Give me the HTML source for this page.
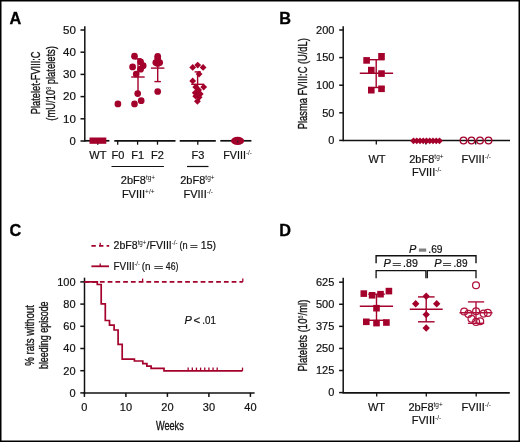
<!DOCTYPE html><html><head><meta charset="utf-8"><style>html,body{margin:0;padding:0;background:#fff;}svg{display:block;will-change:transform;}text{font-family:"Liberation Sans",sans-serif;}</style></head><body>
<svg width="520" height="442" viewBox="0 0 520 442">
<rect x="0" y="0" width="520" height="442" fill="#fff"/>
<rect x="0.75" y="0.75" width="518.5" height="440.5" fill="none" stroke="#000" stroke-width="1.5"/>
<text x="9.6" y="23.8" font-size="16.3" text-anchor="start" font-weight="bold" fill="#000" stroke="#000" stroke-width="0.3">A</text>
<line x1="84.8" y1="26.2" x2="84.8" y2="141.8" stroke="#111" stroke-width="1.5" />
<line x1="80.5" y1="141.0" x2="84.8" y2="141.0" stroke="#111" stroke-width="1.5" />
<text x="75.9" y="144.8" font-size="11" text-anchor="end" textLength="6.3" lengthAdjust="spacingAndGlyphs" fill="#111" stroke="#111" stroke-width="0.2">0</text>
<line x1="80.5" y1="118.8" x2="84.8" y2="118.8" stroke="#111" stroke-width="1.5" />
<text x="75.9" y="122.6" font-size="11" text-anchor="end" textLength="12.9" lengthAdjust="spacingAndGlyphs" fill="#111" stroke="#111" stroke-width="0.2">10</text>
<line x1="80.5" y1="96.6" x2="84.8" y2="96.6" stroke="#111" stroke-width="1.5" />
<text x="75.9" y="100.39999999999999" font-size="11" text-anchor="end" textLength="12.9" lengthAdjust="spacingAndGlyphs" fill="#111" stroke="#111" stroke-width="0.2">20</text>
<line x1="80.5" y1="74.4" x2="84.8" y2="74.4" stroke="#111" stroke-width="1.5" />
<text x="75.9" y="78.2" font-size="11" text-anchor="end" textLength="12.9" lengthAdjust="spacingAndGlyphs" fill="#111" stroke="#111" stroke-width="0.2">30</text>
<line x1="80.5" y1="52.2" x2="84.8" y2="52.2" stroke="#111" stroke-width="1.5" />
<text x="75.9" y="56.0" font-size="11" text-anchor="end" textLength="12.9" lengthAdjust="spacingAndGlyphs" fill="#111" stroke="#111" stroke-width="0.2">40</text>
<line x1="80.5" y1="30.0" x2="84.8" y2="30.0" stroke="#111" stroke-width="1.5" />
<text x="75.9" y="33.8" font-size="11" text-anchor="end" textLength="12.9" lengthAdjust="spacingAndGlyphs" fill="#111" stroke="#111" stroke-width="0.2">50</text>
<line x1="84.8" y1="140.8" x2="109.4" y2="140.8" stroke="#111" stroke-width="1.7" />
<line x1="114.3" y1="140.8" x2="175.5" y2="140.8" stroke="#111" stroke-width="1.7" />
<line x1="179.7" y1="140.8" x2="215.8" y2="140.8" stroke="#111" stroke-width="1.7" />
<line x1="220.3" y1="140.8" x2="251.4" y2="140.8" stroke="#111" stroke-width="1.7" />
<line x1="97.8" y1="140.8" x2="97.8" y2="144.7" stroke="#111" stroke-width="1.3" />
<line x1="117.7" y1="140.8" x2="117.7" y2="144.7" stroke="#111" stroke-width="1.3" />
<line x1="137.6" y1="140.8" x2="137.6" y2="144.7" stroke="#111" stroke-width="1.3" />
<line x1="157.5" y1="140.8" x2="157.5" y2="144.7" stroke="#111" stroke-width="1.3" />
<line x1="197.8" y1="140.8" x2="197.8" y2="144.7" stroke="#111" stroke-width="1.3" />
<line x1="237.7" y1="140.8" x2="237.7" y2="144.7" stroke="#111" stroke-width="1.3" />
<text x="97.9" y="158.5" font-size="11" text-anchor="middle" fill="#111" stroke="#111" stroke-width="0.2">WT</text>
<text x="117.9" y="158.5" font-size="11" text-anchor="middle" fill="#111" stroke="#111" stroke-width="0.2">F0</text>
<text x="137.6" y="158.5" font-size="11" text-anchor="middle" fill="#111" stroke="#111" stroke-width="0.2">F1</text>
<text x="157.5" y="158.5" font-size="11" text-anchor="middle" fill="#111" stroke="#111" stroke-width="0.2">F2</text>
<text x="198" y="158.5" font-size="11" text-anchor="middle" fill="#111" stroke="#111" stroke-width="0.2">F3</text>
<text x="223.3" y="158.5" font-size="11" text-anchor="start" textLength="28.6" lengthAdjust="spacingAndGlyphs" fill="#111" stroke="#111" stroke-width="0.2">FVIII<tspan font-size="6.5" dy="-4" stroke-width="0">-/-</tspan></text>
<line x1="111.5" y1="166.5" x2="163.9" y2="166.5" stroke="#111" stroke-width="1.2" />
<line x1="187" y1="166.5" x2="208.5" y2="166.5" stroke="#111" stroke-width="1.2" />
<text x="138" y="184.2" font-size="11" text-anchor="middle" fill="#111" stroke="#111" stroke-width="0.2">2bF8<tspan font-size="6.5" dy="-4" stroke-width="0">tg+</tspan></text>
<text x="138.2" y="197.6" font-size="11" text-anchor="middle" fill="#111" stroke="#111" stroke-width="0.2">FVIII<tspan font-size="6.5" dy="-4" stroke-width="0">+/+</tspan></text>
<text x="197.4" y="184.2" font-size="11" text-anchor="middle" fill="#111" stroke="#111" stroke-width="0.2">2bF8<tspan font-size="6.5" dy="-4" stroke-width="0">tg+</tspan></text>
<text x="198.2" y="197.6" font-size="11" text-anchor="middle" fill="#111" stroke="#111" stroke-width="0.2">FVIII<tspan font-size="6.5" dy="-4" stroke-width="0">-/-</tspan></text>
<text transform="translate(40,82.8) rotate(-90)" x="0" y="0" font-size="13.3" text-anchor="middle" textLength="62.7" lengthAdjust="spacingAndGlyphs" fill="#111" stroke="#111" stroke-width="0.35">Platelet-FVIII:C</text>
<text transform="translate(55,83.4) rotate(-90)" x="0" y="0" font-size="13.3" text-anchor="middle" textLength="74.7" lengthAdjust="spacingAndGlyphs" fill="#111" stroke="#111" stroke-width="0.35">(mU/10<tspan font-size="7.5" dy="-4.5" stroke-width="0">8</tspan><tspan dy="4.5"> platelets)</tspan></text>
<rect x="89.5" y="137.5" width="16.8" height="6.3" fill="#a3002b"/>
<circle cx="117.9" cy="103.9" r="3.35" fill="#a3002b"/>
<circle cx="134.5" cy="56.2" r="3.35" fill="#a3002b"/>
<circle cx="132.6" cy="66.9" r="3.35" fill="#a3002b"/>
<circle cx="140.6" cy="61.8" r="3.35" fill="#a3002b"/>
<circle cx="143.2" cy="65.7" r="3.35" fill="#a3002b"/>
<circle cx="140.6" cy="69.2" r="3.35" fill="#a3002b"/>
<circle cx="136.2" cy="74" r="3.35" fill="#a3002b"/>
<circle cx="137.7" cy="93.6" r="3.35" fill="#a3002b"/>
<circle cx="134.5" cy="103.9" r="3.35" fill="#a3002b"/>
<circle cx="141.2" cy="100.7" r="3.35" fill="#a3002b"/>
<line x1="131.2" y1="77" x2="144.7" y2="77" stroke="#a3002b" stroke-width="1.4" />
<line x1="138" y1="58.8" x2="138" y2="93.7" stroke="#a3002b" stroke-width="1.4" />
<line x1="134.6" y1="58.8" x2="141.4" y2="58.8" stroke="#a3002b" stroke-width="1.4" />
<circle cx="157.7" cy="56.3" r="3.35" fill="#a3002b"/>
<circle cx="157.7" cy="58.5" r="3.35" fill="#a3002b"/>
<circle cx="155.8" cy="62.6" r="3.35" fill="#a3002b"/>
<circle cx="159.7" cy="62.6" r="3.35" fill="#a3002b"/>
<circle cx="157.7" cy="63.5" r="3.35" fill="#a3002b"/>
<circle cx="157.7" cy="91.5" r="3.35" fill="#a3002b"/>
<line x1="151" y1="68.1" x2="164.4" y2="68.1" stroke="#a3002b" stroke-width="1.4" />
<line x1="157.7" y1="57" x2="157.7" y2="81.6" stroke="#a3002b" stroke-width="1.4" />
<line x1="154.4" y1="81.6" x2="160.9" y2="81.6" stroke="#a3002b" stroke-width="1.4" />
<path d="M189.30,67.40L192.70,64.00L196.10,67.40L192.70,70.80Z" fill="#a3002b"/>
<path d="M194.30,65.10L197.70,61.70L201.10,65.10L197.70,68.50Z" fill="#a3002b"/>
<path d="M199.70,67.40L203.10,64.00L206.50,67.40L203.10,70.80Z" fill="#a3002b"/>
<path d="M195.70,74.10L199.10,70.70L202.50,74.10L199.10,77.50Z" fill="#a3002b"/>
<path d="M189.30,80.90L192.70,77.50L196.10,80.90L192.70,84.30Z" fill="#a3002b"/>
<path d="M200.30,87.10L203.70,83.70L207.10,87.10L203.70,90.50Z" fill="#a3002b"/>
<path d="M192.30,87.10L195.70,83.70L199.10,87.10L195.70,90.50Z" fill="#a3002b"/>
<path d="M195.20,90.00L198.60,86.60L202.00,90.00L198.60,93.40Z" fill="#a3002b"/>
<path d="M191.80,92.80L195.20,89.40L198.60,92.80L195.20,96.20Z" fill="#a3002b"/>
<path d="M196.90,93.90L200.30,90.50L203.70,93.90L200.30,97.30Z" fill="#a3002b"/>
<path d="M192.30,96.20L195.70,92.80L199.10,96.20L195.70,99.60Z" fill="#a3002b"/>
<path d="M195.70,97.30L199.10,93.90L202.50,97.30L199.10,100.70Z" fill="#a3002b"/>
<path d="M194.00,101.30L197.40,97.90L200.80,101.30L197.40,104.70Z" fill="#a3002b"/>
<line x1="191.2" y1="84.3" x2="204.2" y2="84.3" stroke="#a3002b" stroke-width="1.4" />
<line x1="197.6" y1="71.9" x2="197.6" y2="96.7" stroke="#a3002b" stroke-width="1.4" />
<line x1="194.6" y1="71.9" x2="200.8" y2="71.9" stroke="#a3002b" stroke-width="1.4" />
<ellipse cx="237.6" cy="140.9" rx="6.6" ry="4.1" fill="#a3002b"/>
<line x1="237.7" y1="140.6" x2="237.7" y2="142.4" stroke="#222" stroke-width="1.1" />
<text x="279.3" y="23.8" font-size="16.3" text-anchor="start" font-weight="bold" fill="#000" stroke="#000" stroke-width="0.3">B</text>
<line x1="343.2" y1="26.2" x2="343.2" y2="141.20000000000002" stroke="#111" stroke-width="1.5" />
<line x1="339.2" y1="140.4" x2="343.2" y2="140.4" stroke="#111" stroke-width="1.5" />
<text x="334.4" y="144.20000000000002" font-size="11" text-anchor="end" fill="#111" stroke="#111" stroke-width="0.2">0</text>
<line x1="339.2" y1="112.80000000000001" x2="343.2" y2="112.80000000000001" stroke="#111" stroke-width="1.5" />
<text x="334.4" y="116.60000000000001" font-size="11" text-anchor="end" fill="#111" stroke="#111" stroke-width="0.2">50</text>
<line x1="339.2" y1="85.2" x2="343.2" y2="85.2" stroke="#111" stroke-width="1.5" />
<text x="334.4" y="89.0" font-size="11" text-anchor="end" fill="#111" stroke="#111" stroke-width="0.2">100</text>
<line x1="339.2" y1="57.599999999999994" x2="343.2" y2="57.599999999999994" stroke="#111" stroke-width="1.5" />
<text x="334.4" y="61.39999999999999" font-size="11" text-anchor="end" fill="#111" stroke="#111" stroke-width="0.2">150</text>
<line x1="339.2" y1="30.0" x2="343.2" y2="30.0" stroke="#111" stroke-width="1.5" />
<text x="334.4" y="33.8" font-size="11" text-anchor="end" fill="#111" stroke="#111" stroke-width="0.2">200</text>
<line x1="343.2" y1="140.5" x2="510" y2="140.5" stroke="#111" stroke-width="1.7" />
<line x1="376.3" y1="140.5" x2="376.3" y2="144.6" stroke="#111" stroke-width="1.3" />
<line x1="425.8" y1="140.5" x2="425.8" y2="144.6" stroke="#111" stroke-width="1.3" />
<line x1="475.7" y1="140.5" x2="475.7" y2="144.6" stroke="#111" stroke-width="1.3" />
<text x="377" y="162.9" font-size="11" text-anchor="middle" fill="#111" stroke="#111" stroke-width="0.2">WT</text>
<text x="426.4" y="163.3" font-size="11" text-anchor="middle" fill="#111" stroke="#111" stroke-width="0.2">2bF8<tspan font-size="6.5" dy="-4" stroke-width="0">tg+</tspan></text>
<text x="426.7" y="175.8" font-size="11" text-anchor="middle" fill="#111" stroke="#111" stroke-width="0.2">FVIII<tspan font-size="6.5" dy="-4" stroke-width="0">-/-</tspan></text>
<text x="476.2" y="162.8" font-size="11" text-anchor="middle" fill="#111" stroke="#111" stroke-width="0.2">FVIII<tspan font-size="6.5" dy="-4" stroke-width="0">-/-</tspan></text>
<text transform="translate(307.3,83.7) rotate(-90)" x="0" y="0" font-size="13.3" text-anchor="middle" textLength="91" lengthAdjust="spacingAndGlyphs" fill="#111" stroke="#111" stroke-width="0.35">Plasma FVIII:C (U/dL)</text>
<rect x="363.30" y="57.10" width="6.6" height="6.6" fill="#a3002b"/>
<rect x="378.20" y="53.00" width="6.6" height="6.6" fill="#a3002b"/>
<rect x="368.00" y="66.80" width="6.6" height="6.6" fill="#a3002b"/>
<rect x="378.20" y="70.30" width="6.6" height="6.6" fill="#a3002b"/>
<rect x="368.00" y="86.90" width="6.6" height="6.6" fill="#a3002b"/>
<rect x="378.20" y="85.50" width="6.6" height="6.6" fill="#a3002b"/>
<line x1="359.8" y1="73.2" x2="393.1" y2="73.2" stroke="#a3002b" stroke-width="1.4" />
<line x1="376.2" y1="59.7" x2="376.2" y2="87.5" stroke="#a3002b" stroke-width="1.4" />
<line x1="368" y1="59.7" x2="384.6" y2="59.7" stroke="#a3002b" stroke-width="1.4" />
<line x1="368" y1="87.5" x2="384.6" y2="87.5" stroke="#a3002b" stroke-width="1.4" />
<path d="M410.10,140.80L413.50,137.40L416.90,140.80L413.50,144.20Z" fill="#a3002b"/>
<path d="M413.35,140.80L416.75,137.40L420.15,140.80L416.75,144.20Z" fill="#a3002b"/>
<path d="M416.60,140.80L420.00,137.40L423.40,140.80L420.00,144.20Z" fill="#a3002b"/>
<path d="M419.85,140.80L423.25,137.40L426.65,140.80L423.25,144.20Z" fill="#a3002b"/>
<path d="M423.10,140.80L426.50,137.40L429.90,140.80L426.50,144.20Z" fill="#a3002b"/>
<path d="M426.35,140.80L429.75,137.40L433.15,140.80L429.75,144.20Z" fill="#a3002b"/>
<path d="M429.60,140.80L433.00,137.40L436.40,140.80L433.00,144.20Z" fill="#a3002b"/>
<path d="M432.85,140.80L436.25,137.40L439.65,140.80L436.25,144.20Z" fill="#a3002b"/>
<path d="M436.10,140.80L439.50,137.40L442.90,140.80L439.50,144.20Z" fill="#a3002b"/>
<circle cx="463.5" cy="140.5" r="3.3" fill="none" stroke="#a3002b" stroke-width="1.3"/>
<circle cx="471.5" cy="140.5" r="3.3" fill="none" stroke="#a3002b" stroke-width="1.3"/>
<circle cx="480" cy="140.5" r="3.3" fill="none" stroke="#a3002b" stroke-width="1.3"/>
<circle cx="488.5" cy="140.5" r="3.3" fill="none" stroke="#a3002b" stroke-width="1.3"/>
<text x="9.4" y="235.9" font-size="16.3" text-anchor="start" font-weight="bold" fill="#000" stroke="#000" stroke-width="0.3">C</text>
<line x1="84.5" y1="277.7" x2="84.5" y2="393.7" stroke="#111" stroke-width="1.5" />
<line x1="80.3" y1="392.9" x2="84.5" y2="392.9" stroke="#111" stroke-width="1.5" />
<text x="75.6" y="396.7" font-size="11" text-anchor="end" fill="#111" stroke="#111" stroke-width="0.2">0</text>
<line x1="80.3" y1="370.7" x2="84.5" y2="370.7" stroke="#111" stroke-width="1.5" />
<text x="75.6" y="374.5" font-size="11" text-anchor="end" fill="#111" stroke="#111" stroke-width="0.2">20</text>
<line x1="80.3" y1="348.5" x2="84.5" y2="348.5" stroke="#111" stroke-width="1.5" />
<text x="75.6" y="352.3" font-size="11" text-anchor="end" fill="#111" stroke="#111" stroke-width="0.2">40</text>
<line x1="80.3" y1="326.29999999999995" x2="84.5" y2="326.29999999999995" stroke="#111" stroke-width="1.5" />
<text x="75.6" y="330.09999999999997" font-size="11" text-anchor="end" fill="#111" stroke="#111" stroke-width="0.2">60</text>
<line x1="80.3" y1="304.09999999999997" x2="84.5" y2="304.09999999999997" stroke="#111" stroke-width="1.5" />
<text x="75.6" y="307.9" font-size="11" text-anchor="end" fill="#111" stroke="#111" stroke-width="0.2">80</text>
<line x1="80.3" y1="281.9" x2="84.5" y2="281.9" stroke="#111" stroke-width="1.5" />
<text x="75.6" y="285.7" font-size="11" text-anchor="end" fill="#111" stroke="#111" stroke-width="0.2">100</text>
<line x1="83.75" y1="392.9" x2="254.6" y2="392.9" stroke="#111" stroke-width="1.5" />
<line x1="84.4" y1="392.9" x2="84.4" y2="396.9" stroke="#111" stroke-width="1.5" />
<text x="84.4" y="411.2" font-size="11" text-anchor="middle" fill="#111" stroke="#111" stroke-width="0.2">0</text>
<line x1="125.9" y1="392.9" x2="125.9" y2="396.9" stroke="#111" stroke-width="1.5" />
<text x="125.9" y="411.2" font-size="11" text-anchor="middle" fill="#111" stroke="#111" stroke-width="0.2">10</text>
<line x1="167.4" y1="392.9" x2="167.4" y2="396.9" stroke="#111" stroke-width="1.5" />
<text x="167.4" y="411.2" font-size="11" text-anchor="middle" fill="#111" stroke="#111" stroke-width="0.2">20</text>
<line x1="208.9" y1="392.9" x2="208.9" y2="396.9" stroke="#111" stroke-width="1.5" />
<text x="208.9" y="411.2" font-size="11" text-anchor="middle" fill="#111" stroke="#111" stroke-width="0.2">30</text>
<line x1="250.4" y1="392.9" x2="250.4" y2="396.9" stroke="#111" stroke-width="1.5" />
<text x="250.4" y="411.2" font-size="11" text-anchor="middle" fill="#111" stroke="#111" stroke-width="0.2">40</text>
<text x="169.85" y="429.8" font-size="13.3" text-anchor="middle" textLength="27.8" lengthAdjust="spacingAndGlyphs" fill="#111" stroke="#111" stroke-width="0.35">Weeks</text>
<text transform="translate(34,335.45) rotate(-90)" x="0" y="0" font-size="13.3" text-anchor="middle" textLength="60.7" lengthAdjust="spacingAndGlyphs" fill="#111" stroke="#111" stroke-width="0.35">% rats without</text>
<text transform="translate(48.3,335.25) rotate(-90)" x="0" y="0" font-size="13.3" text-anchor="middle" textLength="67.7" lengthAdjust="spacingAndGlyphs" fill="#111" stroke="#111" stroke-width="0.35">bleeding episode</text>
<line x1="91.4" y1="245.9" x2="109.2" y2="245.9" stroke="#a3002b" stroke-width="1.8" stroke-dasharray="4.4 3.2"/>
<line x1="100.2" y1="245.9" x2="100.2" y2="242.7" stroke="#a3002b" stroke-width="1.3" />
<line x1="91.4" y1="266.3" x2="109" y2="266.3" stroke="#a3002b" stroke-width="1.8" />
<line x1="100.2" y1="266.3" x2="100.2" y2="263.4" stroke="#a3002b" stroke-width="1.3" />
<text x="113.5" y="249" font-size="11" text-anchor="start" textLength="64.2" lengthAdjust="spacingAndGlyphs" fill="#111" stroke="#111" stroke-width="0.2">2bF8<tspan font-size="6.5" dy="-4" stroke-width="0">tg+</tspan><tspan dy="4">/FVIII</tspan><tspan font-size="6.5" dy="-4" stroke-width="0">-/-</tspan></text>
<text x="179.4" y="249" font-size="11" text-anchor="start" textLength="8.2" lengthAdjust="spacingAndGlyphs" fill="#111" stroke="#111" stroke-width="0.2">(n</text>
<line x1="190.3" y1="245.5" x2="197.5" y2="245.5" stroke="#4a4a4a" stroke-width="1.0" />
<line x1="190.3" y1="247.5" x2="197.5" y2="247.5" stroke="#4a4a4a" stroke-width="1.0" />
<text x="200.8" y="249" font-size="11" text-anchor="start" textLength="15.3" lengthAdjust="spacingAndGlyphs" fill="#111" stroke="#111" stroke-width="0.2">15)</text>
<text x="113.5" y="269.7" font-size="11" text-anchor="start" textLength="26.4" lengthAdjust="spacingAndGlyphs" fill="#111" stroke="#111" stroke-width="0.2">FVIII<tspan font-size="6.5" dy="-4" stroke-width="0">-/-</tspan></text>
<text x="141.8" y="269.7" font-size="11" text-anchor="start" textLength="8.8" lengthAdjust="spacingAndGlyphs" fill="#111" stroke="#111" stroke-width="0.2">(n</text>
<line x1="154.3" y1="266.5" x2="162.9" y2="266.5" stroke="#4a4a4a" stroke-width="1.0" />
<line x1="154.3" y1="268.5" x2="162.9" y2="268.5" stroke="#4a4a4a" stroke-width="1.0" />
<text x="165.8" y="269.7" font-size="11" text-anchor="start" textLength="12.6" lengthAdjust="spacingAndGlyphs" fill="#111" stroke="#111" stroke-width="0.2">46)</text>
<path d="M84.4,281.8 H97.3 V284.5 H101.2 V303.8 H105.3 V320.5 H109.5 V325.2 H114.1 V330 H118.1 V344.4 H122.2 V359.1 H134.4 V361 H142.8 V363.7 H146.9 V366.1 H151.1 V368.4 H164 V370.9 H242.5" fill="none" stroke="#a3002b" stroke-width="1.7"/>
<line x1="188.15000000000003" y1="370.9" x2="188.15000000000003" y2="367.6" stroke="#a3002b" stroke-width="1.3" />
<line x1="192.3" y1="370.9" x2="192.3" y2="367.6" stroke="#a3002b" stroke-width="1.3" />
<line x1="196.45000000000002" y1="370.9" x2="196.45000000000002" y2="367.6" stroke="#a3002b" stroke-width="1.3" />
<line x1="200.60000000000002" y1="370.9" x2="200.60000000000002" y2="367.6" stroke="#a3002b" stroke-width="1.3" />
<line x1="204.75" y1="370.9" x2="204.75" y2="367.6" stroke="#a3002b" stroke-width="1.3" />
<line x1="208.90000000000003" y1="370.9" x2="208.90000000000003" y2="367.6" stroke="#a3002b" stroke-width="1.3" />
<line x1="213.05" y1="370.9" x2="213.05" y2="367.6" stroke="#a3002b" stroke-width="1.3" />
<line x1="217.20000000000002" y1="370.9" x2="217.20000000000002" y2="367.6" stroke="#a3002b" stroke-width="1.3" />
<line x1="242.5" y1="370.9" x2="242.5" y2="367.6" stroke="#a3002b" stroke-width="1.3" />
<line x1="84.4" y1="281.8" x2="242.8" y2="281.8" stroke="#a3002b" stroke-width="1.7" stroke-dasharray="4.75 3"/>
<line x1="142.6" y1="281.8" x2="142.6" y2="278.6" stroke="#a3002b" stroke-width="1.3" />
<line x1="242.8" y1="281.8" x2="242.8" y2="278.6" stroke="#a3002b" stroke-width="1.3" />
<text x="184.4" y="323.5" font-size="11" text-anchor="start" font-style="italic" fill="#111" stroke="#111" stroke-width="0.2">P</text>
<text x="193.5" y="323.5" font-size="11" text-anchor="start" textLength="6.7" lengthAdjust="spacingAndGlyphs" fill="#111" stroke="#111" stroke-width="0.2">&lt;</text>
<text x="202.3" y="323.5" font-size="11" text-anchor="start" textLength="13.6" lengthAdjust="spacingAndGlyphs" fill="#111" stroke="#111" stroke-width="0.2">.01</text>
<text x="279.3" y="235.9" font-size="16.3" text-anchor="start" font-weight="bold" fill="#000" stroke="#000" stroke-width="0.3">D</text>
<line x1="343.2" y1="277.7" x2="343.2" y2="393.40000000000003" stroke="#111" stroke-width="1.5" />
<line x1="339.1" y1="392.6" x2="343.2" y2="392.6" stroke="#111" stroke-width="1.5" />
<text x="334.3" y="396.40000000000003" font-size="11" text-anchor="end" fill="#111" stroke="#111" stroke-width="0.2">0</text>
<line x1="339.1" y1="370.52000000000004" x2="343.2" y2="370.52000000000004" stroke="#111" stroke-width="1.5" />
<text x="334.3" y="374.32000000000005" font-size="11" text-anchor="end" fill="#111" stroke="#111" stroke-width="0.2">125</text>
<line x1="339.1" y1="348.44000000000005" x2="343.2" y2="348.44000000000005" stroke="#111" stroke-width="1.5" />
<text x="334.3" y="352.24000000000007" font-size="11" text-anchor="end" fill="#111" stroke="#111" stroke-width="0.2">250</text>
<line x1="339.1" y1="326.36" x2="343.2" y2="326.36" stroke="#111" stroke-width="1.5" />
<text x="334.3" y="330.16" font-size="11" text-anchor="end" fill="#111" stroke="#111" stroke-width="0.2">375</text>
<line x1="339.1" y1="304.28000000000003" x2="343.2" y2="304.28000000000003" stroke="#111" stroke-width="1.5" />
<text x="334.3" y="308.08000000000004" font-size="11" text-anchor="end" fill="#111" stroke="#111" stroke-width="0.2">500</text>
<line x1="339.1" y1="282.20000000000005" x2="343.2" y2="282.20000000000005" stroke="#111" stroke-width="1.5" />
<text x="334.3" y="286.00000000000006" font-size="11" text-anchor="end" fill="#111" stroke="#111" stroke-width="0.2">625</text>
<line x1="343.2" y1="392.8" x2="509.8" y2="392.8" stroke="#111" stroke-width="1.7" />
<line x1="376.7" y1="392.8" x2="376.7" y2="396.5" stroke="#111" stroke-width="1.3" />
<line x1="426.3" y1="392.8" x2="426.3" y2="396.5" stroke="#111" stroke-width="1.3" />
<line x1="476.2" y1="392.8" x2="476.2" y2="396.5" stroke="#111" stroke-width="1.3" />
<text x="376.5" y="411.1" font-size="11" text-anchor="middle" fill="#111" stroke="#111" stroke-width="0.2">WT</text>
<text x="425.6" y="411.1" font-size="11" text-anchor="middle" fill="#111" stroke="#111" stroke-width="0.2">2bF8<tspan font-size="6.5" dy="-4" stroke-width="0">tg+</tspan></text>
<text x="426.5" y="424" font-size="11" text-anchor="middle" fill="#111" stroke="#111" stroke-width="0.2">FVIII<tspan font-size="6.5" dy="-4" stroke-width="0">-/-</tspan></text>
<text x="476.3" y="411.1" font-size="11" text-anchor="middle" fill="#111" stroke="#111" stroke-width="0.2">FVIII<tspan font-size="6.5" dy="-4" stroke-width="0">-/-</tspan></text>
<text transform="translate(307.3,335.6) rotate(-90)" x="0" y="0" font-size="13.3" text-anchor="middle" textLength="72" lengthAdjust="spacingAndGlyphs" fill="#111" stroke="#111" stroke-width="0.35">Platelets (10<tspan font-size="7.5" dy="-4.5" stroke-width="0">6</tspan><tspan dy="4.5">/ml)</tspan></text>
<rect x="360.50" y="290.30" width="6.6" height="6.6" fill="#a3002b"/>
<rect x="368.80" y="292.00" width="6.6" height="6.6" fill="#a3002b"/>
<rect x="377.20" y="290.90" width="6.6" height="6.6" fill="#a3002b"/>
<rect x="385.60" y="287.80" width="6.6" height="6.6" fill="#a3002b"/>
<rect x="373.20" y="304.90" width="6.6" height="6.6" fill="#a3002b"/>
<rect x="363.00" y="318.50" width="6.6" height="6.6" fill="#a3002b"/>
<rect x="373.20" y="319.80" width="6.6" height="6.6" fill="#a3002b"/>
<rect x="383.10" y="319.20" width="6.6" height="6.6" fill="#a3002b"/>
<line x1="359.8" y1="306.2" x2="393.1" y2="306.2" stroke="#a3002b" stroke-width="1.4" />
<line x1="376.5" y1="294.2" x2="376.5" y2="320.3" stroke="#a3002b" stroke-width="1.4" />
<line x1="368.2" y1="294.2" x2="384.8" y2="294.2" stroke="#a3002b" stroke-width="1.4" />
<line x1="368.2" y1="320.3" x2="384.8" y2="320.3" stroke="#a3002b" stroke-width="1.4" />
<path d="M422.50,296.30L426.20,292.60L429.90,296.30L426.20,300.00Z" fill="#a3002b"/>
<path d="M412.00,303.70L415.70,300.00L419.40,303.70L415.70,307.40Z" fill="#a3002b"/>
<path d="M433.00,303.70L436.70,300.00L440.40,303.70L436.70,307.40Z" fill="#a3002b"/>
<path d="M422.50,314.60L426.20,310.90L429.90,314.60L426.20,318.30Z" fill="#a3002b"/>
<path d="M422.50,328.00L426.20,324.30L429.90,328.00L426.20,331.70Z" fill="#a3002b"/>
<line x1="409.8" y1="309.3" x2="442.7" y2="309.3" stroke="#a3002b" stroke-width="1.4" />
<line x1="426.2" y1="296.9" x2="426.2" y2="321.8" stroke="#a3002b" stroke-width="1.4" />
<line x1="418" y1="296.9" x2="434.6" y2="296.9" stroke="#a3002b" stroke-width="1.4" />
<line x1="418" y1="321.8" x2="434.6" y2="321.8" stroke="#a3002b" stroke-width="1.4" />
<line x1="459.5" y1="312.7" x2="492.5" y2="312.7" stroke="#b0123c" stroke-width="1.4" />
<line x1="476" y1="301.9" x2="476" y2="323.3" stroke="#b0123c" stroke-width="1.4" />
<line x1="467.9" y1="301.9" x2="484.2" y2="301.9" stroke="#b0123c" stroke-width="1.4" />
<line x1="467.9" y1="323.3" x2="484.2" y2="323.3" stroke="#b0123c" stroke-width="1.4" />
<circle cx="476" cy="285.3" r="3.45" fill="none" stroke="#b0123c" stroke-width="1.25"/>
<circle cx="464.2" cy="311.5" r="3.45" fill="none" stroke="#b0123c" stroke-width="1.25"/>
<circle cx="468.4" cy="313.9" r="3.45" fill="none" stroke="#b0123c" stroke-width="1.25"/>
<circle cx="476.1" cy="311.2" r="3.45" fill="none" stroke="#b0123c" stroke-width="1.25"/>
<circle cx="483.6" cy="313.6" r="3.45" fill="none" stroke="#b0123c" stroke-width="1.25"/>
<circle cx="487.8" cy="312.9" r="3.45" fill="none" stroke="#b0123c" stroke-width="1.25"/>
<circle cx="471.5" cy="318.8" r="3.45" fill="none" stroke="#b0123c" stroke-width="1.25"/>
<circle cx="476.1" cy="321.9" r="3.45" fill="none" stroke="#b0123c" stroke-width="1.25"/>
<circle cx="480.2" cy="321.2" r="3.45" fill="none" stroke="#b0123c" stroke-width="1.25"/>
<path d="M376.1,263.3 V255.8 H476 V263.3" fill="none" stroke="#111" stroke-width="1.4"/>
<path d="M376.1,278.2 V270.7 H425.9 V278.2" fill="none" stroke="#111" stroke-width="1.3"/>
<path d="M427.3,278.2 V270.7 H476 V278.2" fill="none" stroke="#111" stroke-width="1.3"/>
<text x="409.0" y="252.6" font-size="11" text-anchor="start" font-style="italic" fill="#111" stroke="#111" stroke-width="0.2">P</text>
<rect x="418.9" y="248.5" width="7.3" height="3.2" fill="#808080"/>
<text x="428.3" y="252.6" font-size="11" text-anchor="start" textLength="14.3" lengthAdjust="spacingAndGlyphs" fill="#111" stroke="#111" stroke-width="0.2">.69</text>
<text x="383.6" y="267.4" font-size="11" text-anchor="start" font-style="italic" fill="#111" stroke="#111" stroke-width="0.2">P</text>
<line x1="392.7" y1="263.5" x2="400.9" y2="263.5" stroke="#4a4a4a" stroke-width="1.0" />
<line x1="392.7" y1="265.5" x2="400.9" y2="265.5" stroke="#4a4a4a" stroke-width="1.0" />
<text x="403.1" y="267.4" font-size="11" text-anchor="start" textLength="14.8" lengthAdjust="spacingAndGlyphs" fill="#111" stroke="#111" stroke-width="0.2">.89</text>
<text x="434.3" y="267.4" font-size="11" text-anchor="start" font-style="italic" fill="#111" stroke="#111" stroke-width="0.2">P</text>
<line x1="443.0" y1="263.5" x2="451.1" y2="263.5" stroke="#4a4a4a" stroke-width="1.0" />
<line x1="443.0" y1="265.5" x2="451.1" y2="265.5" stroke="#4a4a4a" stroke-width="1.0" />
<text x="453.5" y="267.4" font-size="11" text-anchor="start" textLength="14.0" lengthAdjust="spacingAndGlyphs" fill="#111" stroke="#111" stroke-width="0.2">.89</text>
</svg></body></html>
